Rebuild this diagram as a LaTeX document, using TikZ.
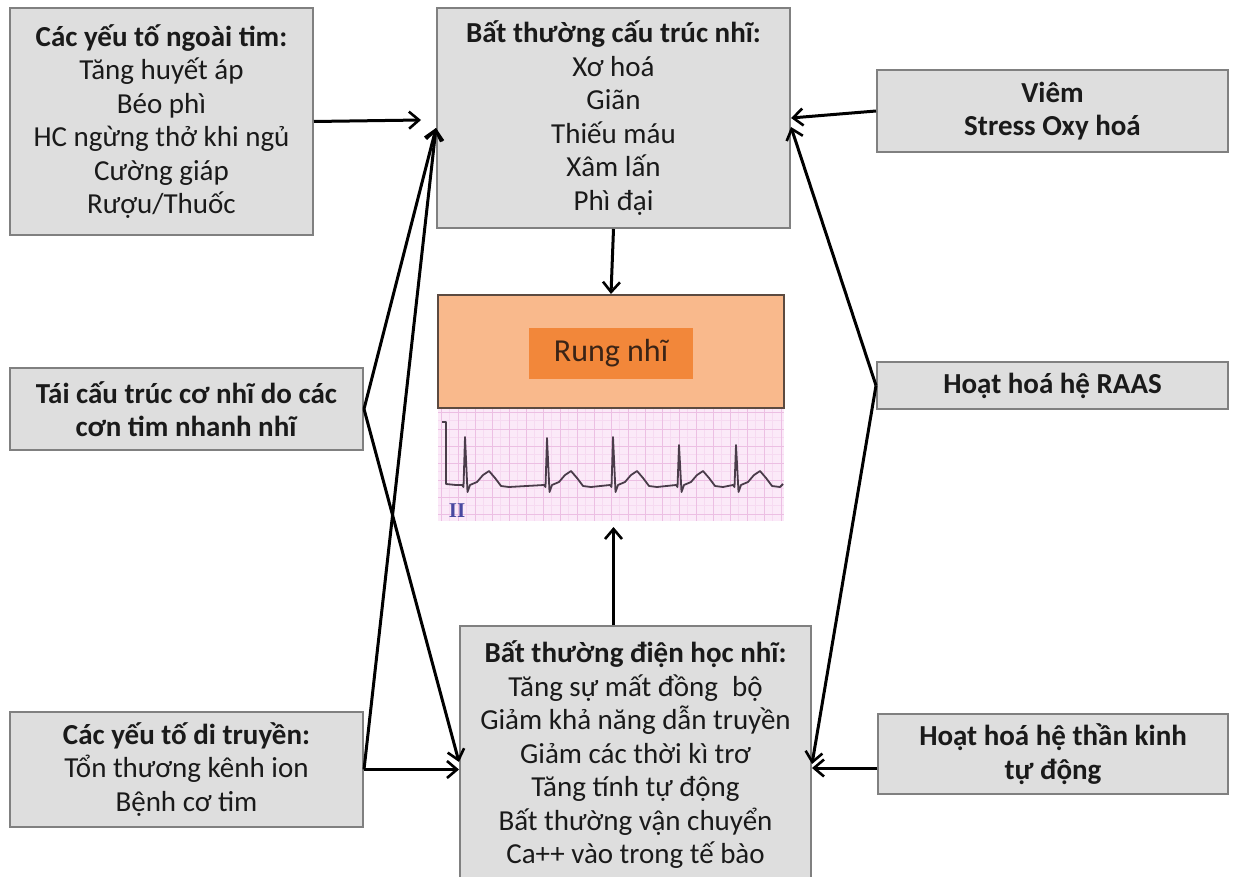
\documentclass[tikz,border=0pt]{standalone}
\usepackage{fontspec}
\setmainfont{Carlito}
\newfontfamily\leadfont{Liberation Serif}
\usetikzlibrary{arrows.meta}

\definecolor{boxfill}{HTML}{DEDEDE}
\definecolor{boxline}{HTML}{808080}
\definecolor{inktext}{HTML}{1A1A1A}
\definecolor{peach}{HTML}{F9B98C}
\definecolor{orangeband}{HTML}{F2873A}
\definecolor{peachline}{HTML}{5C4A40}
\definecolor{rungtext}{HTML}{3B2416}
\definecolor{ecgpaper}{HTML}{FBE9F8}
\definecolor{ecgminor}{HTML}{F6DAF1}
\definecolor{ecgmajor}{HTML}{ECBFE3}
\definecolor{ecgtrace}{HTML}{4A3C4A}
\definecolor{leadblue}{HTML}{4848A0}

\tikzset{
  infobox/.style={draw=boxline, fill=boxfill, line width=2pt, inner sep=0pt,
    align=center, text=inktext, font=\fontsize{29}{33.5}\selectfont},
  link/.style={line width=3pt,
    -{Straight Barb[length=10pt,width=17pt,line width=2.6pt]}},
}

\begin{document}
\begin{tikzpicture}[x=1pt,y=-1pt]
\useasboundingbox (0,0) rectangle (1238,877);
\clip (0,0) rectangle (1238,877);
\fill[white] (0,0) rectangle (1238,877);

% ---- boxes ----
\node[infobox, minimum width=303, minimum height=227] (ext) at (161.5,121.5)
  {\textbf{Các yếu tố ngoài tim:}\\Tăng huyết áp\\Béo phì\\HC ngừng thở khi ngủ\\Cường giáp\\Rượu/Thuốc};
\node[infobox, minimum width=353, minimum height=220] (struct) at (613.5,118)
  {\textbf{Bất thường cấu trúc nhĩ:}\\Xơ hoá\\Giãn\\Thiếu máu\\Xâm lấn\\Phì đại};
\node[infobox, minimum width=351, minimum height=82] (inflam) at (1052.5,111)
  {\textbf{Viêm}\\\textbf{Stress Oxy hoá}};
\node[infobox, minimum width=353, minimum height=82] (remod) at (186.5,409)
  {\textbf{Tái cấu trúc cơ nhĩ do các}\\\textbf{cơn tim nhanh nhĩ}};
\node[infobox, minimum width=351, minimum height=47] (raas) at (1052.5,385.5)
  {\textbf{Hoạt hoá hệ RAAS}};
\node[infobox, minimum width=353, minimum height=115] (genet) at (186.5,769.5)
  {\textbf{Các yếu tố di truyền:}\\Tổn thương kênh ion\\Bệnh cơ tim};
\node[infobox, minimum width=350, minimum height=80] (auto) at (1053,754)
  {\textbf{Hoạt hoá hệ thần kinh}\\\textbf{tự động}};
\node[infobox, minimum width=351, minimum height=258] (elec) at (635.5,755)
  {\textbf{Bất thường điện học nhĩ:}\\Tăng sự mất đồng\hspace{14pt}bộ\\Giảm khả năng dẫn truyền\\Giảm các thời kì trơ\\Tăng tính tự động\\Bất thường vận chuyển\\Ca++ vào trong tế bào};

% ---- atrial fibrillation panel ----
\node[draw=peachline, fill=peach, line width=2pt, minimum width=346, minimum height=113, inner sep=0pt] (af) at (611,351.5) {};
\node[fill=orangeband, minimum width=164, minimum height=51, inner sep=0pt,
  text=rungtext, font=\fontsize{32}{34}\selectfont] (afband) at (611,353.5) {Rung nhĩ};

% ECG paper
\fill[ecgpaper] (438,409) rectangle (784,521);
\foreach \gx in {441,449.5,...,784} \draw[ecgminor, line width=0.6pt] (\gx,409) -- (\gx,521);
\foreach \gy in {412,420.5,...,521} \draw[ecgminor, line width=0.6pt] (438,\gy) -- (784,\gy);
\foreach \gx in {441,458,...,784} \draw[ecgmajor, line width=0.9pt] (\gx,409) -- (\gx,521);
\foreach \gy in {412,429,...,521} \draw[ecgmajor, line width=0.9pt] (438,\gy) -- (784,\gy);

% lead II trace
\draw[ecgtrace, line width=1.8pt, line join=round]
  (442,422) -- (446,422) -- (446,484) -- (456,485)
  foreach \s/\p in {465/437, 547/438, 613/437, 679/445, 736/445} {
    -- (\s-3,485) -- (\s-1.5,487) -- (\s,\p) -- (\s+2.5,492) -- (\s+5,485)
    -- (\s+12,482) -- (\s+18,475) -- (\s+24,471) -- (\s+30,478) -- (\s+36,486)
    -- (\s+44,487)
  } -- (783,484);
\node[text=leadblue, font=\leadfont\bfseries\fontsize{21}{21}\selectfont, inner sep=0pt] (lead) at (457,511) {II};

% ---- connectors ----
\coordinate (extTip) at (421,120);
\coordinate (ecgTip) at (613.5,527);

\draw[link] (ext.east) -- (extTip);
\draw[link] (remod.east) -- ([yshift=-10pt]struct.west);
\draw[link] (genet.east) -- ([yshift=-10pt]struct.west);
\draw[link] (remod.east) -- ([yshift=-7pt]elec.west);
\draw[link] (genet.east) -- (genet.east -| elec.west);

\draw[link] (inflam.west) -- (struct.east);
\draw[link] (raas.west) -- ([yshift=-9pt]struct.east);
\draw[link] (raas.west) -- ([yshift=-9pt]elec.east);
\draw[link] ([yshift=-14pt]auto.west) -- ([yshift=-14pt]auto.west -| elec.east);

\draw[link] (struct.south) -- (af.north);
\draw[link] (struct.south |- elec.north) -- (ecgTip);
\end{tikzpicture}
\end{document}
